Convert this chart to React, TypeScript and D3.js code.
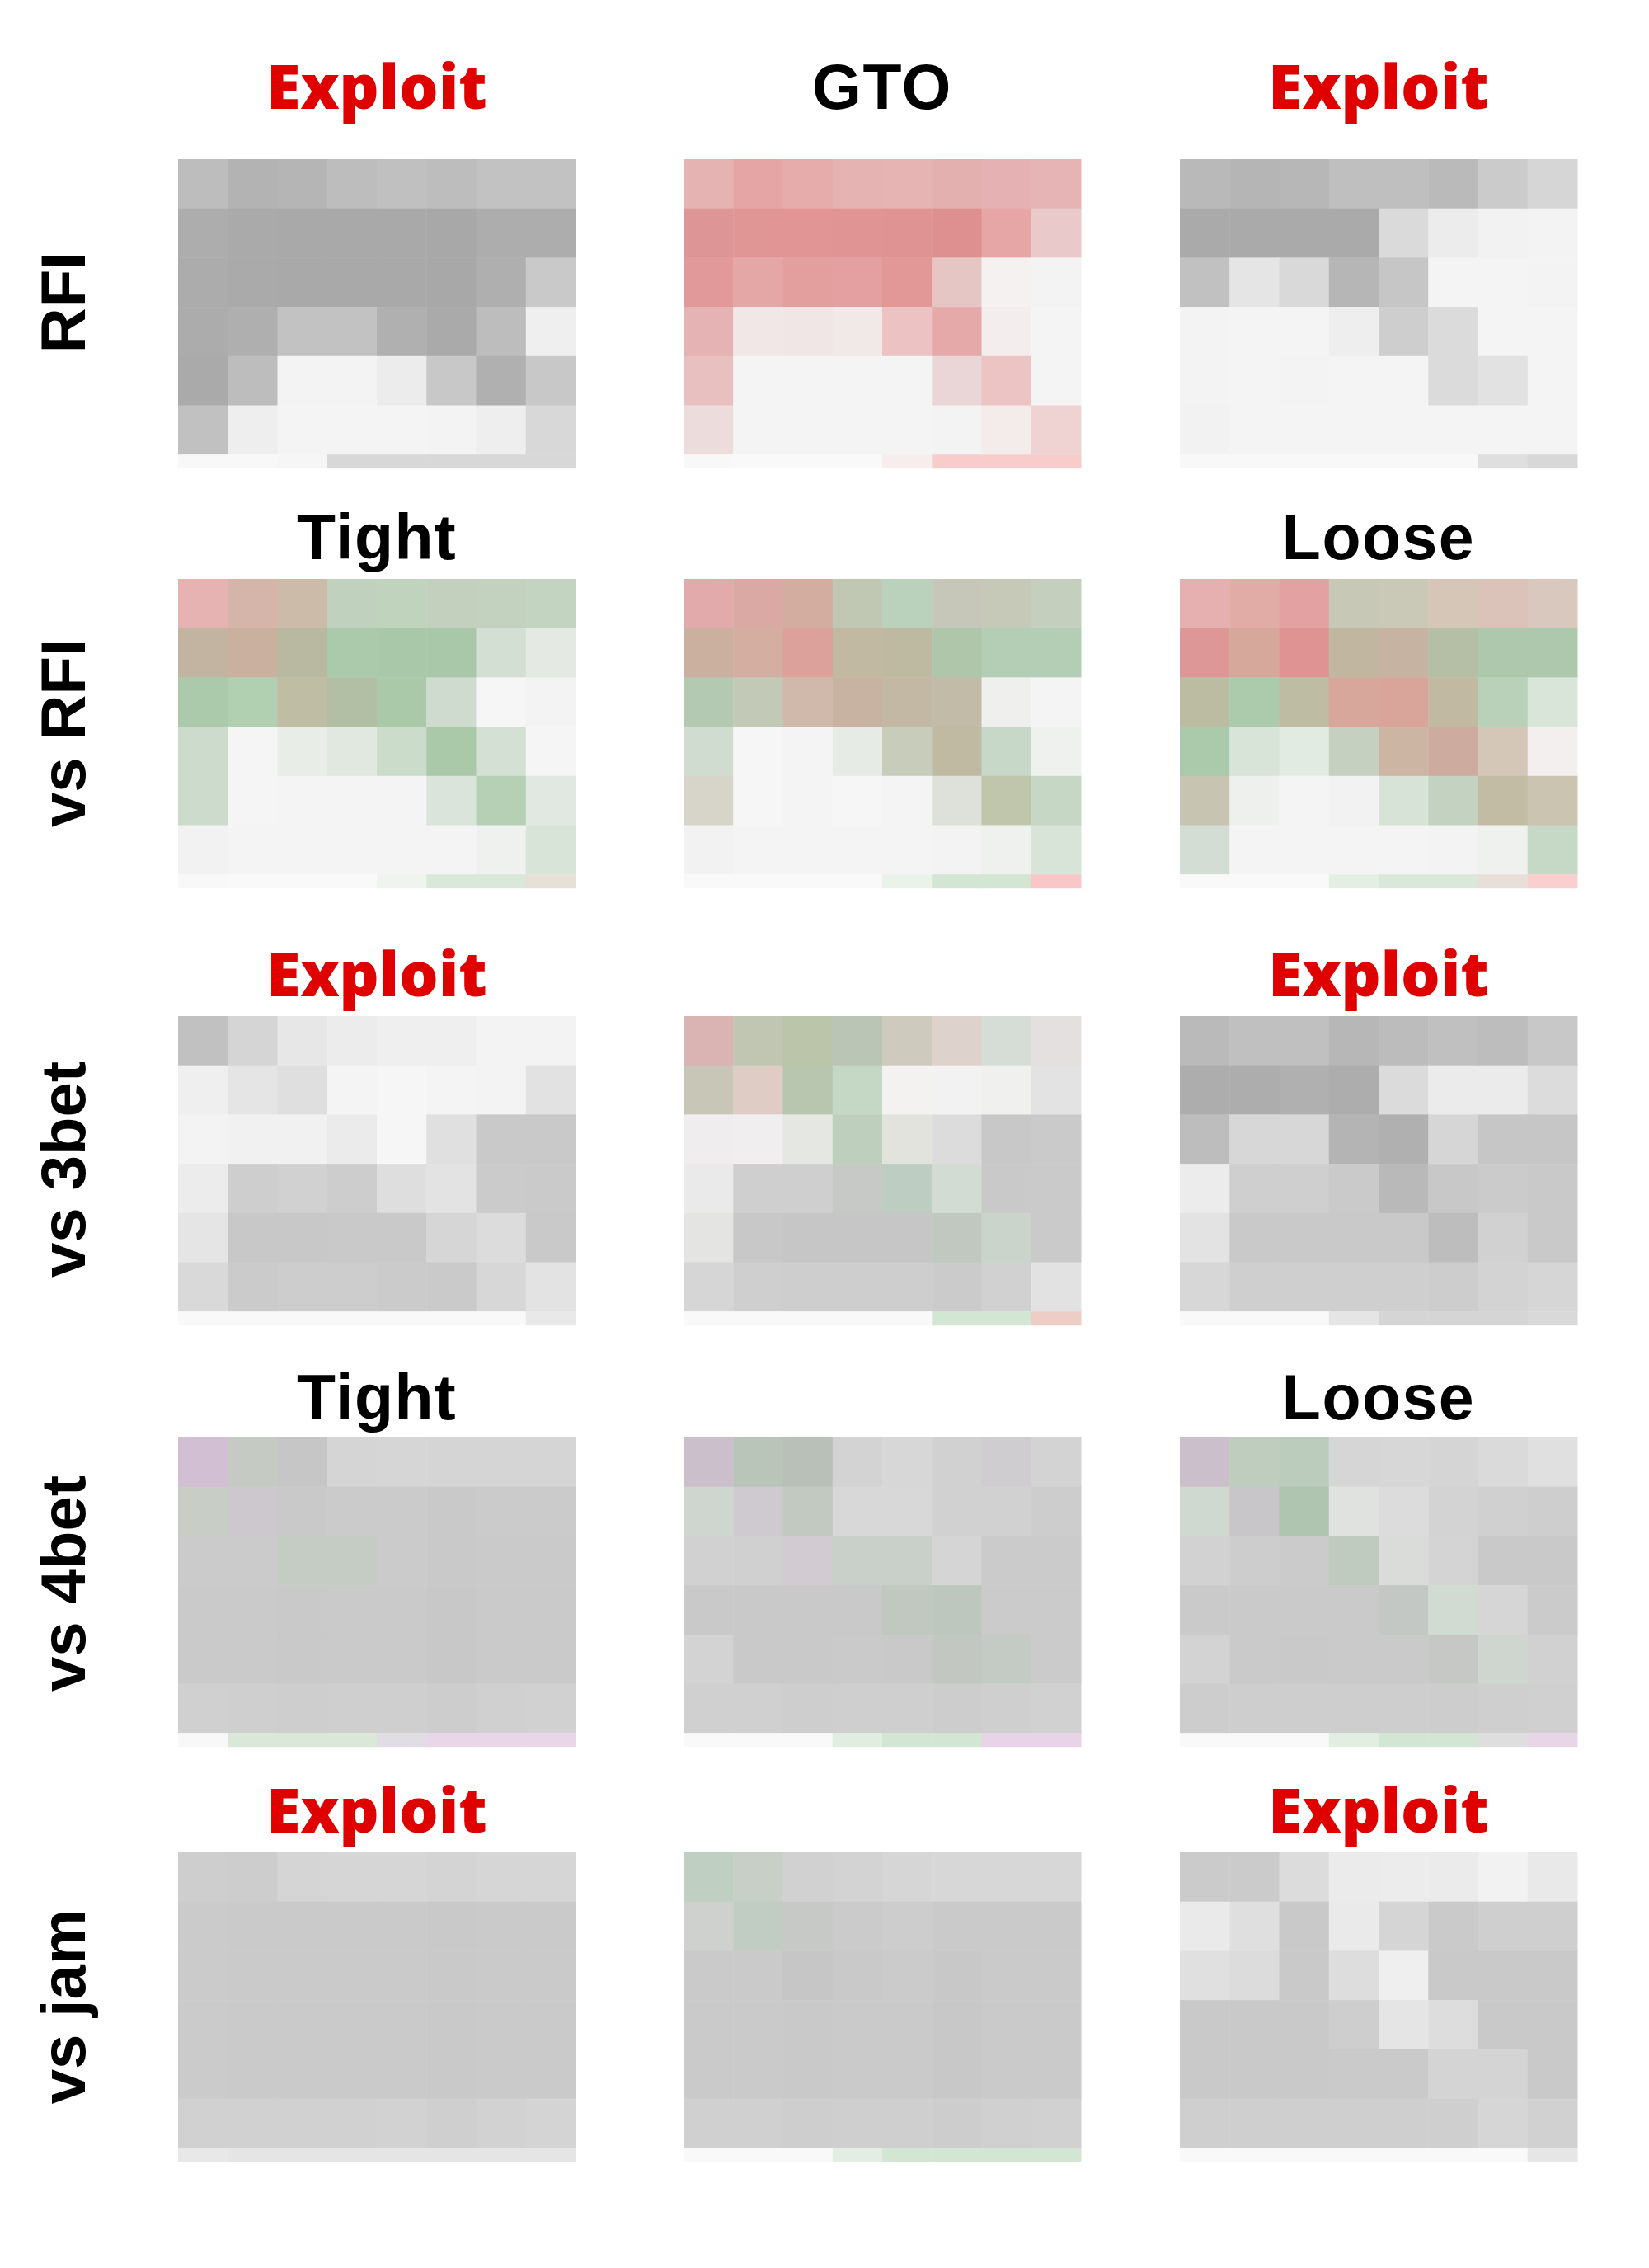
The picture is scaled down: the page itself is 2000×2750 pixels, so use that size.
import React from "react";
import * as d3 from "d3";

// ---------- data ----------
const rowLabels = ["RFI", "vs RFI", "vs 3bet", "vs 4bet", "vs jam"];
const colTitles = [
  ["Exploit", "GTO", "Exploit"],
  ["Tight", "", "Loose"],
  ["Exploit", "", "Exploit"],
  ["Tight", "", "Loose"],
  ["Exploit", "", "Exploit"],
];
const titleIsExploit = (t: string) => t === "Exploit";
const gridCols = [0, 1, 2, 3, 4, 5, 6, 7];
const gridRows = [0, 1, 2, 3, 4, 5, 6]; // row 6 is the thin bottom strip

// each heatmap: 7 rows x 8 cell colours
const rfiLeft = [
  "bdbdbd b3b3b3 b5b5b5 bdbdbd c0c0c0 bdbdbd c2c2c2 c2c2c2",
  "adadad aaaaaa a9a9a9 a9a9a9 a9a9a9 a8a8a8 adadad adadad",
  "acacac aaaaaa a9a9a9 a9a9a9 a9a9a9 a8a8a8 afafaf c9c9c9",
  "acacac afafaf c2c2c2 c2c2c2 b0b0b0 aaaaaa bdbdbd efefef",
  "aaaaaa bdbdbd f3f3f3 f3f3f3 ececec c8c8c8 b0b0b0 c8c8c8",
  "c1c1c1 eeeeee f4f4f4 f4f4f4 f4f4f4 f3f3f3 eeeeee d8d8d8",
  "f8f8f8 f8f8f8 f6f6f6 d8d8d8 d8d8d8 d8d8d8 d8d8d8 d8d8d8",
];
const rfiMid = [
  "e6b3b3 e6a5a5 e5acab e5b3b2 e5b4b3 e4b0af e6b1b2 e6b4b5",
  "de9595 e19696 e19595 e09494 df9393 de9090 e6a6a6 e9c9c9",
  "e19999 e5a6a6 e39e9e e4a0a0 e39898 e6c5c5 f5f1f1 f3f3f3",
  "e5b3b3 f2e7e7 f1e6e6 f1e8e8 ecc2c2 e6a9a9 f4eded f4f4f4",
  "e8c0c0 f4f4f4 f4f4f4 f4f4f4 f4f4f4 ead6d6 ecc4c4 f4f4f4",
  "eddcdc f4f4f4 f4f4f4 f4f4f4 f4f4f4 f3f3f3 f4ebeb efd3d3",
  "f8f8f8 f9f9f9 f9f9f9 f9f9f9 f8eded f9cccc f9cccc f9cccc",
];
const rfiRight = [
  "b9b9b9 b5b5b5 b7b7b7 bfbfbf bfbfbf bababa cbcbcb d6d6d6",
  "aaaaaa aaaaaa aaaaaa aaaaaa dadada ececec f2f2f2 f3f3f3",
  "c1c1c1 e5e5e5 d9d9d9 b6b6b6 c6c6c6 f4f4f4 f4f4f4 f3f3f3",
  "f3f3f3 f4f4f4 f4f4f4 eeeeee cecece dbdbdb f4f4f4 f4f4f4",
  "f3f3f3 f4f4f4 f3f3f3 f4f4f4 f4f4f4 dbdbdb e2e2e2 f4f4f4",
  "f2f2f2 f4f4f4 f4f4f4 f4f4f4 f4f4f4 f4f4f4 f4f4f4 f4f4f4",
  "f8f8f8 f8f8f8 f8f8f8 f8f8f8 f8f8f8 f8f8f8 dfdfdf d8d8d8",
];
const vsRfiLeft = [
  "e7b2b2 d5b4a9 cbbba8 c0d2bd bfd3bd c3d0bd c3d2bf c3d5c1",
  "c3b4a2 cab09f b8b9a0 abc9ab a9c8a9 a9c8a9 d2dfd2 e4e9e4",
  "abc9ab b1cfb1 bfbda4 b3bfa4 a9c9a9 cfdbcf f6f6f6 f3f3f3",
  "cddbcd f5f5f5 e8ede8 e0e8e0 cbdccb a9c9a9 d3e0d3 f5f5f5",
  "cddbcd f5f5f5 f4f4f4 f4f4f4 f4f4f4 dae4da b5d0b5 e1e7e1",
  "f2f2f2 f4f4f4 f4f4f4 f4f4f4 f4f4f4 f4f4f4 eef1ee d9e4d9",
  "f8f8f8 f9f9f9 f9f9f9 f9f9f9 eff4ef d9e8d9 d9e8d9 e6e0d6",
];
const vsRfiMid = [
  "e2aaaa dba9a3 d3ad9f c0c7b2 bad2bc c6c7b8 c6c8b8 c4cfbd",
  "cbb0a0 d3aea1 dda19c c1b9a2 bebaa2 b0c6ab b3ceb4 b3ceb4",
  "b3c9b1 c2cab7 d0b8aa c8b3a3 c2b8a4 c1bba8 eff0ee f4f4f4",
  "cfdccf f6f6f6 f4f4f4 e6ebe6 c8cdbb c1baa3 c8d8c8 eff1ef",
  "d7d5c9 f6f6f6 f4f4f4 f6f6f6 f4f4f4 dee1da bfc6ab c7d7c5",
  "f2f2f2 f4f4f4 f4f4f4 f4f4f4 f4f4f4 f3f3f3 eff1ef d9e4d9",
  "f9f9f9 f9f9f9 f9f9f9 f9f9f9 eaf3ea d3e6d3 d3e6d3 f9c7c7",
];
const vsRfiRight = [
  "e6b0b0 e2aca6 e4a1a1 c7c8b6 cac9b8 d5c6b8 dbc3b9 d8c8bd",
  "de9797 d6a89c e09393 c1b7a1 c7b3a1 b5bfa5 adc8ad adc8ad",
  "bcbca2 accaac bebda3 d8a79b d9a59b c2b9a2 b9d1b9 dae5da",
  "abcaab d9e4d9 e2ebe2 c6d0c0 cdb5a4 cdab9e d4c7b8 f3efef",
  "c7c4b1 eef0ee f4f4f4 f2f2f2 d8e3d8 c4d3c1 c3bca4 cbc4b1",
  "d3ddd3 f4f4f4 f4f4f4 f4f4f4 f4f4f4 f3f3f3 eff1ef c6d8c6",
  "f9f9f9 f9f9f9 f9f9f9 e3efe3 d9e8d9 d9e8d9 e8e0d8 f9cfcf",
];
const vs3betLeft = [
  "c1c1c1 d5d5d5 e7e7e7 ececec efefef efefef f3f3f3 f3f3f3",
  "efefef e5e5e5 dfdfdf f4f4f4 f6f6f6 f4f4f4 f3f3f3 e2e2e2",
  "f3f3f3 f1f1f1 f1f1f1 ebebeb f6f6f6 e0e0e0 c9c9c9 c9c9c9",
  "ececec cecece d1d1d1 cdcdcd dedede e3e3e3 cbcbcb cacaca",
  "e5e5e5 c8c8c8 c8c8c8 c9c9c9 c9c9c9 d6d6d6 dcdcdc c9c9c9",
  "d9d9d9 cbcbcb cdcdcd cdcdcd cbcbcb cacaca d7d7d7 e3e3e3",
  "f9f9f9 f9f9f9 f9f9f9 f9f9f9 f9f9f9 f9f9f9 f9f9f9 e9e9e9",
];
const vs3betMid = [
  "dab3b3 c0c6b1 bac5aa bac5b6 cecbbe ddd3cc d6ddd6 e4e0df",
  "c8c6b6 dfccc5 b8c6af c5d8c5 f3f2f0 f2f2f2 f0f0ee e2e3e2",
  "efedee f0eeee e4e7e2 bed0bd e2e3dc dcdcdc c8c8c8 cacaca",
  "eaeaea cfcfcf cfcfcf c7c9c6 bdcdc1 d2dcd2 c9c9c9 cacaca",
  "e4e4e2 c8c8c8 c6c6c6 c6c6c6 c6c6c6 c0c8c0 cbd4cb cacaca",
  "d6d6d6 cfcfcf cecece cecece cecece cbcbcb d1d1d1 e2e2e2",
  "f9f9f9 f9f9f9 f9f9f9 f9f9f9 f9f9f9 d3e6d3 d3e6d3 eecdc6",
];
const vs3betRight = [
  "bababa c0c0c0 c0c0c0 b7b7b7 bcbcbc c0c0c0 bdbdbd c8c8c8",
  "adadad adadad b0b0b0 adadad dbdbdb ebebeb ebebeb dcdcdc",
  "bdbdbd d7d7d7 d7d7d7 b4b4b4 b0b0b0 d6d6d6 c6c6c6 c6c6c6",
  "ececec cfcfcf cfcfcf cacaca b9b9b9 c8c8c8 cbcbcb c9c9c9",
  "e3e3e3 c9c9c9 c9c9c9 c9c9c9 c9c9c9 bdbdbd d1d1d1 c9c9c9",
  "d7d7d7 cfcfcf cfcfcf cfcfcf cfcfcf cdcdcd d3d3d3 d6d6d6",
  "f9f9f9 f9f9f9 f9f9f9 e5e5e5 d5d5d5 d5d5d5 d5d5d5 d9d9d9",
];
const vs4betLeft = [
  "d3bfd3 c5cbc3 c6c6c6 d5d5d5 d6d6d6 d5d5d5 d5d5d5 d5d5d5",
  "c8cdc5 cdc8cd c9c9c9 cbcbcb cbcbcb c9c9c9 cbcbcb cbcbcb",
  "cbcbcb cbcbcb c5ccc3 c5ccc3 cbcbcb c9c9c9 cacaca cacaca",
  "cacaca cacaca c9c9c9 cacaca cacaca c8c8c8 cacaca cacaca",
  "cacaca cacaca c9c9c9 cacaca cacaca c8c8c8 cacaca cacaca",
  "d0d0d0 cfcfcf cecece cfcfcf cfcfcf cdcdcd d0d0d0 d1d1d1",
  "f8f8f8 d9e8d9 d9e8d9 d9e8d9 e0dde4 e9d7e9 e9d7e9 e9d7e9",
];
const vs4betMid = [
  "cbbfcb b9c5b9 b8c0b8 d3d3d3 d7d7d7 d1d1d1 d0cdd0 d3d3d3",
  "cfd5cf cfcacf c1c9c1 d8d8d8 d8d8d8 d1d1d1 d1d1d1 cdcdcd",
  "d1d1d1 d0d0d0 d2ccd2 c9cfc9 c9cfc9 d5d5d5 cbcbcb cbcbcb",
  "c9c9c9 c9c9c9 c9c9c9 c9c9c9 c0c8c0 bdc7bd cbcbcb cbcbcb",
  "d3d3d3 c9c9c9 c9c9c9 cacaca c9c9c9 c2c7c2 c4cbc4 cbcbcb",
  "d0d0d0 d0d0d0 cecece cfcfcf cfcfcf cdcdcd cfcfcf d1d1d1",
  "f9f9f9 f9f9f9 f9f9f9 e0ede0 d3e6d3 d3e6d3 e8d3e8 e8d3e8",
];
const vs4betRight = [
  "ccbfcc bfcdbf bcccbc d6d6d6 d7d7d7 d5d5d5 dadada e0e0e0",
  "cfd9cf c9c6ca b0c5b0 e0e2e0 dcdcdc d3d3d3 d0d0d0 cecece",
  "d2d2d2 cdcdcd cbcbcb c0cbc0 dadcda d4d4d4 c9c9c9 c9c9c9",
  "cacaca cacaca cacaca c9cac9 c4c8c4 d1dbd1 d6d6d6 cbcbcb",
  "d3d3d3 cacaca c9c9c9 cacaca cacaca c6c8c6 cfd6cf d1d1d1",
  "cdcdcd cecece cecece cecece cecece cdcdcd cfcfcf d0d0d0",
  "f9f9f9 f9f9f9 f9f9f9 e3eee3 d3e6d3 d3e6d3 dedede e8d6e8",
];
const vsJamLeft = [
  "cecece cdcdcd d5d5d5 d6d6d6 d6d6d6 d4d4d4 d6d6d6 d6d6d6",
  "cbcbcb cacaca cacaca cacaca cacaca c9c9c9 cacaca cacaca",
  "cbcbcb cacaca cacaca cacaca cacaca c9c9c9 cacaca cacaca",
  "cbcbcb cacaca cacaca cacaca cacaca c9c9c9 cacaca cacaca",
  "cbcbcb cacaca cacaca cacaca cacaca c9c9c9 cacaca cacaca",
  "d1d1d1 d1d1d1 d1d1d1 d1d1d1 d2d2d2 cfcfcf d2d2d2 d4d4d4",
  "e8e8e8 e5e5e5 e5e5e5 e5e5e5 e5e5e5 e5e5e5 e5e5e5 e5e5e5",
];
const vsJamMid = [
  "bfcfc1 c7cfc7 d1d1d1 d3d3d3 d6d6d6 d7d7d7 d7d7d7 d7d7d7",
  "cfd1cf c1cdc2 c7c9c7 cbcbcb cdcdcd cacaca cacaca cacaca",
  "cacaca cacaca c6c6c6 c9c9c9 cacbca c8c8c8 cacaca cacaca",
  "cacaca cacaca c9c9c9 cacaca cacaca c8c8c8 cacaca cacaca",
  "cacaca cacaca c9c9c9 cacaca cacaca c8c8c8 cacaca cacaca",
  "d0d0d0 d0d0d0 cecece cfcfcf cfcfcf cdcdcd d0d0d0 d1d1d1",
  "f9f9f9 f9f9f9 f9f9f9 e3ede3 d3e6d3 d3e6d3 d3e6d3 d3e6d3",
];
const vsJamRight = [
  "cbcbcb cbcbcb dcdcdc ebebeb ececec ebebeb f2f2f2 e9e9e9",
  "eaeaea dfdfdf c9c9c9 eaeaea d5d5d5 cacaca cfcfcf cfcfcf",
  "e0e0e0 dcdcdc c9c9c9 dddddd efefef c9c9c9 c9c9c9 c9c9c9",
  "c9c9c9 c9c9c9 c9c9c9 cecece e5e5e5 dddddd c9c9c9 c9c9c9",
  "c9c9c9 c9c9c9 c9c9c9 cacaca cacaca d4d4d4 d4d4d4 c9c9c9",
  "cfcfcf cfcfcf cfcfcf cfcfcf cfcfcf cfcfcf d6d6d6 d1d1d1",
  "f9f9f9 f9f9f9 f9f9f9 f9f9f9 f9f9f9 f9f9f9 f9f9f9 e6e6e6",
];

const heatmaps = [
  [rfiLeft, rfiMid, rfiRight],
  [vsRfiLeft, vsRfiMid, vsRfiRight],
  [vs3betLeft, vs3betMid, vs3betRight],
  [vs4betLeft, vs4betMid, vs4betRight],
  [vsJamLeft, vsJamMid, vsJamRight],
];

// ---------- layout ----------
const W = 2000;
const H = 2750;
const panelX = [216, 829, 1431];
const panelTop = [193, 702, 1232, 1743, 2246];
const panelW = 482;
const cellH = 59.7;
const stripH = 17;
const titleBaseline = [132, 678, 1208, 1721, 2222];
const labelCenter = [367, 889, 1418, 1920, 2433];
const RED = "#df0000";
const EXPLOIT_FONT = "'Open Sans', 'Noto Sans', sans-serif";
const BLACK_FONT = "'Liberation Sans', Arial, sans-serif";

const x = d3.scaleBand<number>().domain(gridCols).range([0, panelW]);
const y = d3
  .scaleLinear()
  .domain([0, 6])
  .range([0, 6 * cellH]);

export default function App() {
  return (
    <svg
      width={W}
      height={H}
      style={{ position: "absolute", left: 0, top: 0, background: "#fff" }}
    >
      <rect width={W} height={H} fill="#fff" />
      {heatmaps.map((row, ri) => (
        <g key={ri}>
          <text
            transform={`translate(103, ${labelCenter[ri]}) rotate(-90)`}
            textAnchor="middle"
            fontFamily={BLACK_FONT}
            fontWeight={700}
            fontSize={76}
            fill="#000"
          >
            {rowLabels[ri]}
          </text>
          {row.map((grid, ci) => {
            const title = colTitles[ri][ci];
            const exploit = titleIsExploit(title);
            return (
              <g key={ci}>
                {title && (
                  <text
                    x={panelX[ci] + panelW / 2}
                    y={titleBaseline[ri]}
                    textAnchor="middle"
                    fontFamily={exploit ? EXPLOIT_FONT : BLACK_FONT}
                    fontWeight={exploit ? 800 : 700}
                    fontSize={exploit ? 75 : 77}
                    letterSpacing={exploit ? 0 : 1.5}
                    fill={exploit ? RED : "#000"}
                  >
                    {title}
                  </text>
                )}
                <g transform={`translate(${panelX[ci]}, ${panelTop[ri]})`}>
                  {gridRows.map((r) =>
                    gridCols.map((c) => {
                      const colour = "#" + grid[r].split(" ")[c];
                      return (
                        <rect
                          key={`${r}-${c}`}
                          x={x(c)}
                          y={y(r)}
                          width={x.bandwidth() + 0.5}
                          height={r === 6 ? stripH : cellH + 0.5}
                          fill={colour}
                        />
                      );
                    })
                  )}
                </g>
              </g>
            );
          })}
        </g>
      ))}
    </svg>
  );
}
